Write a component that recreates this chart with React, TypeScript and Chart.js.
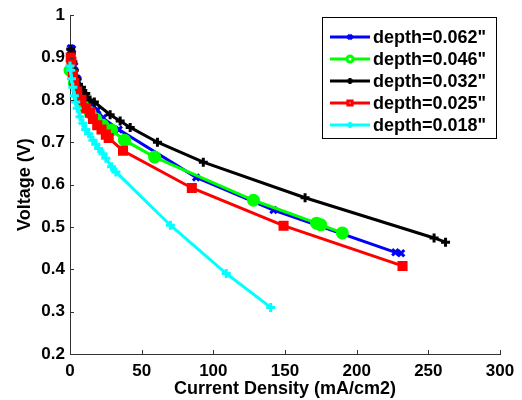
import React, { useEffect, useRef } from "react";
import Chart from "chart.js/auto";
import { drawPoint } from "chart.js/helpers";

const seriesNames = ['depth=0.062"', 'depth=0.046"', 'depth=0.032"', 'depth=0.025"', 'depth=0.018"'];
const seriesColors = ["#0000ff", "#00ff00", "#000000", "#ff0000", "#00ffff"];
const seriesMarkers = ["crossRot", "circle", "cross", "rect", "cross"];

const x062 = [0.5, 1.5, 3, 5, 8, 12, 15, 19, 23, 34, 88, 142, 227, 231];
const y062 = [0.922, 0.92, 0.88, 0.85, 0.82, 0.8, 0.79, 0.776, 0.757, 0.73, 0.617, 0.54, 0.44, 0.438];

const x046 = [0, 3, 6, 10, 14, 18, 23, 29, 38, 59, 128, 172, 175, 190];
const y046 = [0.87, 0.84, 0.81, 0.785, 0.77, 0.755, 0.74, 0.729, 0.705, 0.665, 0.563, 0.509, 0.505, 0.486];

const x032 = [0.5, 1, 2, 3, 5, 8, 11, 14, 17, 28, 35, 42, 61, 93, 164, 254, 262];
const y032 = [0.92, 0.91, 0.89, 0.87, 0.85, 0.83, 0.815, 0.8, 0.795, 0.765, 0.75, 0.735, 0.7, 0.653, 0.569, 0.474, 0.464];

const x025 = [0.5, 1, 2, 3, 5, 8, 11, 14, 16, 19, 22, 25, 27, 37, 85, 149, 232];
const y025 = [0.9, 0.89, 0.86, 0.84, 0.82, 0.8, 0.78, 0.77, 0.755, 0.74, 0.73, 0.718, 0.71, 0.68, 0.592, 0.503, 0.408];

const x018 = [0, 0.5, 1, 2, 3, 4, 5, 7, 9, 11, 13, 16, 18, 20, 23, 25, 29, 32, 70, 109, 140];
const y018 = [0.88, 0.87, 0.85, 0.83, 0.81, 0.795, 0.78, 0.76, 0.745, 0.73, 0.72, 0.705, 0.695, 0.685, 0.673, 0.662, 0.642, 0.63, 0.504, 0.39, 0.31];

const seriesX = [x062, x046, x032, x025, x018];
const seriesY = [y062, y046, y032, y025, y018];

const xTicks = [0, 50, 100, 150, 200, 250, 300];
const yTicks = [0.2, 0.3, 0.4, 0.5, 0.6, 0.7, 0.8, 0.9, 1];

const FONT = "'Liberation Sans', Arial, Helvetica, sans-serif";

export default function App() {
  const ref = useRef<HTMLCanvasElement | null>(null);

  useEffect(() => {
    document.body.style.margin = "0";
    const canvas = ref.current;
    if (!canvas) return;

    const tickPlugin = {
      id: "inwardTicks",
      afterDraw(chart: any) {
        const { ctx, chartArea, scales } = chart;
        ctx.save();
        ctx.strokeStyle = "#333";
        ctx.lineWidth = 1;
        ctx.beginPath();
        xTicks.forEach((v) => {
          const px = Math.round(scales.x.getPixelForValue(v)) + 0.5;
          ctx.moveTo(px, chartArea.bottom);
          ctx.lineTo(px, chartArea.bottom - 4);
        });
        yTicks.forEach((v) => {
          const py = Math.round(scales.y.getPixelForValue(v)) + 0.5;
          ctx.moveTo(chartArea.left, py);
          ctx.lineTo(chartArea.left + 4, py);
        });
        ctx.stroke();
        ctx.restore();
      },
    };

    const legendPlugin = {
      id: "boxLegend",
      afterDraw(chart: any) {
        const { ctx } = chart;
        const bx = 322.5, by = 17.5, bw = 174, bh = 121;
        ctx.save();
        ctx.fillStyle = "#fff";
        ctx.fillRect(bx, by, bw, bh);
        ctx.strokeStyle = "#000";
        ctx.lineWidth = 1;
        ctx.strokeRect(bx, by, bw, bh);
        seriesNames.forEach((name, i) => {
          const y = 37 + i * 22;
          ctx.strokeStyle = seriesColors[i];
          ctx.lineWidth = 3;
          ctx.beginPath();
          ctx.moveTo(330, y);
          ctx.lineTo(370, y);
          ctx.stroke();
          ctx.fillStyle = seriesMarkers[i] === "rect" || seriesMarkers[i] === "circle" ? "#fff" : seriesColors[i];
          drawPoint(ctx, { pointStyle: seriesMarkers[i], radius: 3, rotation: 0, borderWidth: 1.5 } as any, 350, y);
          ctx.fillStyle = "#000";
          ctx.font = `bold 18px ${FONT}`;
          ctx.textBaseline = "middle";
          ctx.textAlign = "left";
          ctx.fillText(name, 373, y + 1);
        });
        ctx.restore();
      },
    };

    const datasets = seriesNames.map((name, i) => ({
      label: name,
      data: seriesX[i].map((x, j) => ({ x, y: seriesY[i][j] })),
      borderColor: seriesColors[i],
      backgroundColor: seriesColors[i],
      pointBackgroundColor: seriesColors[i],
      pointBorderColor: seriesColors[i],
      pointStyle: seriesMarkers[i],
      pointRadius: seriesMarkers[i] === "circle" ? 5 : seriesMarkers[i] === "rect" ? 5 : 4.5,
      pointBorderWidth: 3,
      borderWidth: 3,
      tension: 0,
      fill: false,
      clip: false as any,
      order: 5 - i,
    }));

    const chart = new Chart(canvas, {
      type: "line",
      data: { datasets },
      plugins: [tickPlugin, legendPlugin],
      options: {
        animation: false,
        responsive: false,
        devicePixelRatio: 1,
        layout: { padding: { top: 15, right: 22, left: 0, bottom: 0 } },
        plugins: { legend: { display: false }, tooltip: { enabled: false } },
        scales: {
          x: {
            type: "linear",
            min: 0,
            max: 300,
            afterFit: (s: any) => { s.height = 46; },
            afterBuildTicks: (s: any) => { s.ticks = xTicks.map((v) => ({ value: v })); },
            ticks: {
              color: "#000",
              font: { family: FONT, size: 17, weight: "bold" },
              padding: 7,
              maxRotation: 0,
            },
            grid: { display: false, drawTicks: false },
            border: { display: true, color: "#333", width: 1 },
            title: {
              display: true,
              text: "Current Density (mA/cm2)",
              color: "#000",
              font: { family: FONT, size: 18, weight: "bold" },
              padding: { top: 0, bottom: 0 },
            },
          },
          y: {
            type: "linear",
            min: 0.2,
            max: 1,
            afterFit: (s: any) => { s.width = 70; },
            afterBuildTicks: (s: any) => { s.ticks = yTicks.map((v) => ({ value: v })); },
            ticks: {
              color: "#000",
              font: { family: FONT, size: 17, weight: "bold" },
              padding: 5,
              callback: (v: any) => String(Number(Number(v).toFixed(1))),
            },
            grid: { display: false, drawTicks: false },
            border: { display: true, color: "#333", width: 1 },
            title: {
              display: true,
              text: "Voltage (V)",
              color: "#000",
              font: { family: FONT, size: 18, weight: "bold" },
              padding: { top: 14, bottom: 0 },
            },
          },
        },
      },
    } as any);

    return () => chart.destroy();
  }, []);

  return (
    <div style={{ width: 522, height: 400, background: "#fff" }}>
      <canvas ref={ref} width={522} height={400} style={{ width: 522, height: 400, display: "block" }} />
    </div>
  );
}
